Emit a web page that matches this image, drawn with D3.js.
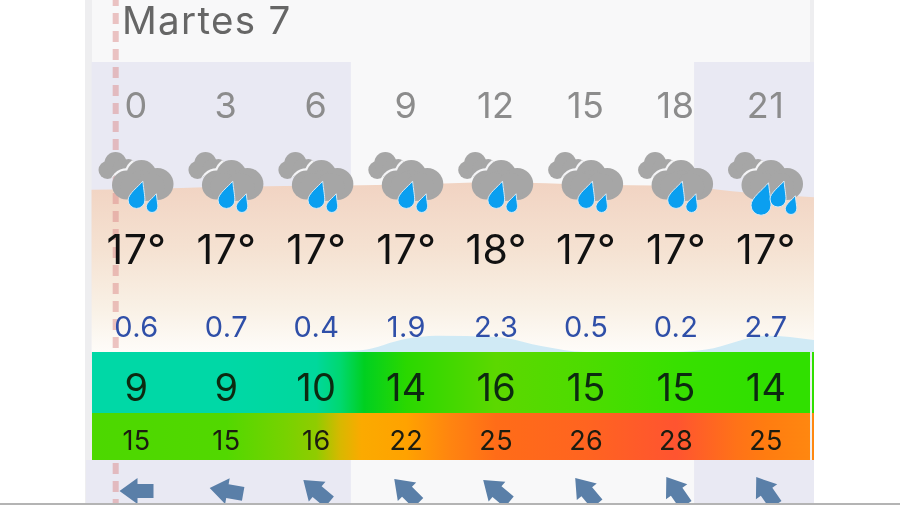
<!DOCTYPE html>
<html>
<head>
<meta charset="utf-8">
<script src="https://cdn.jsdelivr.net/npm/d3@7"></script>
<style>
  html, body { margin: 0; padding: 0; background: #fff; }
  svg { display: block; filter: blur(0.45px); }
  text { font-family: Inter, Roboto, sans-serif; }
</style>
</head>
<body>
<div id="chart"></div>
<script>
var dayLabel = "Martes 7";
var hours = [0, 3, 6, 9, 12, 15, 18, 21];
var tempLabels = [17, 17, 17, 17, 18, 17, 17, 17];
var rainLabels = ["0.6", "0.7", "0.4", "1.9", "2.3", "0.5", "0.2", "2.7"];
var windSpeed = [9, 9, 10, 14, 16, 15, 15, 14];
var windGust = [15, 15, 16, 22, 25, 26, 28, 25];
var windBearing = [270, 280, 310, 315, 310, 320, 325, 325];
var dropCount = [2, 2, 2, 2, 2, 2, 2, 3];

// curves behind the labels
var tempCurveHours = [-1.5, 0, 3, 6, 9, 12, 15, 18, 21, 22.6];
var tempCurve = [16.85, 16.9, 17.1, 17.2, 17.3, 17.5, 17.3, 17.15, 16.45, 16.2];
var rainCurveHours = [6, 7.5, 9, 10, 12, 13.5, 15, 18, 19, 21, 22.6];
var rainCurve = [0, 0.3, 2.2, 2.7, 2.5, 1, 0, 0, 0.4, 2.7, 2];

var sunrise = 7.15, sunset = 18.6;
var width = 900, height = 505;

var x = d3.scaleLinear().domain([0, 21]).range([136.5, 766]);
var yTemp = d3.scaleLinear().domain([17, 18]).range([188, 176.5]);
var yRain = d3.scaleLinear().domain([0, 3]).range([352, 334]);

var svg = d3.select("#chart").append("svg")
  .attr("width", width)
  .attr("height", height);

var defs = svg.append("defs");

function gradient (id, stops, horizontal) {
  var g = defs.append("linearGradient").attr("id", id);
  if (horizontal) {
    g.attr("gradientUnits", "userSpaceOnUse").attr("x1", 92).attr("x2", 814).attr("y1", 0).attr("y2", 0);
  } else {
    g.attr("x1", 0).attr("x2", 0).attr("y1", 0).attr("y2", 1);
  }
  stops.forEach(function (s) {
    g.append("stop").attr("offset", s[0]).attr("stop-color", s[1]);
  });
}

gradient("tempFill", [[0, "#f1d3c2"], [0.4, "#f5e2d2"], [0.75, "#f9f1e6"], [1, "#fefcf9"]]);

function hourStops (list) {
  return list.map(function (s) { return [(x(s[0]) - 92) / (814 - 92), s[1]]; });
}

gradient("windFill", hourStops([
  [-1.5, "#00d8a6"], [3, "#00d8a6"], [6, "#00d89c"], [6.8, "#00d870"], [7.6, "#00d020"],
  [9, "#2ad800"], [12, "#5cd800"], [15, "#4ddc00"], [18, "#38e000"], [21, "#30e000"], [22.6, "#30e000"]
]), true);

gradient("gustFill", hourStops([
  [-1.5, "#4cd800"], [3, "#52d800"], [5, "#78d200"], [6, "#90cc00"], [6.8, "#d8b800"], [7.5, "#fbaa00"],
  [9, "#ffa200"], [10.5, "#ff8410"], [12, "#ff6c18"], [15, "#ff6420"], [18, "#ff5430"], [20, "#ff7218"], [21, "#ff7c10"], [22.6, "#ff8810"]
]), true);

// page frame
svg.append("rect").attr("x", 85).attr("y", 0).attr("width", 729).attr("height", height).attr("fill", "#eeeef0");
svg.append("rect").attr("x", 92).attr("y", 0).attr("width", 718).attr("height", height).attr("fill", "#f8f8f9");

// night shading
var shade = svg.append("g").attr("fill", "#e9e9f3");
shade.append("rect").attr("x", x(-1.5)).attr("y", 62).attr("width", x(sunrise) - x(-1.5)).attr("height", 300);
shade.append("rect").attr("x", x(sunset)).attr("y", 62).attr("width", 814 - x(sunset)).attr("height", 300);
shade.append("rect").attr("x", 86).attr("y", 460).attr("width", x(sunrise) - 86).attr("height", 45);
shade.append("rect").attr("x", x(sunset)).attr("y", 460).attr("width", 814 - x(sunset)).attr("height", 45);

// temperature and rain areas
var tempArea = d3.area()
  .x(function (d, i) { return x(tempCurveHours[i]); })
  .y0(352)
  .y1(function (d) { return yTemp(d); })
  .curve(d3.curveMonotoneX);

svg.append("path").datum(tempCurve)
  .attr("d", tempArea)
  .attr("fill", "url(#tempFill)");

var rainArea = d3.area()
  .x(function (d, i) { return x(rainCurveHours[i]); })
  .y0(352)
  .y1(function (d) { return yRain(d); })
  .curve(d3.curveMonotoneX);

svg.append("path").datum(rainCurve)
  .attr("d", rainArea)
  .attr("fill", "#d0eaf5");

// current time marker
svg.append("line")
  .attr("x1", 115.7).attr("x2", 115.7)
  .attr("y1", 0).attr("y2", height)
  .attr("stroke", "#dc8c8c")
  .attr("stroke-opacity", 0.5)
  .attr("stroke-width", 6)
  .attr("stroke-dasharray", "11,7")
  .attr("stroke-dashoffset", 5);

// wind bands
svg.append("rect").attr("x", 92).attr("y", 352).attr("width", 718).attr("height", 61).attr("fill", "url(#windFill)");
svg.append("rect").attr("x", 92).attr("y", 413).attr("width", 718).attr("height", 47).attr("fill", "url(#gustFill)");
svg.append("rect").attr("x", 812).attr("y", 352).attr("width", 2).attr("height", 61).attr("fill", "#30e000");
svg.append("rect").attr("x", 812).attr("y", 413).attr("width", 2).attr("height", 47).attr("fill", "#ff8810");

// title and hours
svg.append("text")
  .attr("x", 122).attr("y", 34)
  .attr("font-size", 38.5)
  .attr("letter-spacing", 1.3)
  .attr("fill", "#666")
  .text(dayLabel);

var hourAxis = d3.axisTop(x).tickValues(hours).tickSize(0).tickPadding(0);
var axisG = svg.append("g")
  .attr("transform", "translate(-1,118)")
  .call(hourAxis);
axisG.select(".domain").remove();
axisG.selectAll("text")
  .attr("font-family", null)
  .attr("font-size", 36)
  .attr("letter-spacing", 0.5)
  .attr("fill", "#8c8c8c");

// weather icons
var drops = {
  2: [{dx: 0, dy: 0, s: 1.05}, {dx: 15.5, dy: 7, s: 0.72}],
  3: [{dx: -5, dy: 5, s: 1.25}, {dx: 12, dy: -1, s: 1}, {dx: 25, dy: 9, s: 0.72}]
};

function dropPath (s) {
  var r = 8 * s;
  return "M" + (6 * s) + "," + (-17 * s)
    + "C" + (7 * s) + "," + (-8 * s) + " " + r + "," + (-3 * s) + " " + r + "," + (1 * s)
    + "A" + r + "," + r + " 0 1 1 " + (-r) + "," + (1 * s)
    + "C" + (-r) + "," + (-5 * s) + " " + (2 * s) + "," + (-12 * s) + " " + (6 * s) + "," + (-17 * s) + "Z";
}

var backCloud = [[-29, -5, 9], [-21, -12, 11], [-14, -6, 10], [-8, -9, 7]];
var frontCloud = [[-10, 10, 14.5], [5, 0, 15], [21, 9, 16], [5, 11, 15.5], [-2, 12, 14], [14, 12, 14]];

defs.append("clipPath").attr("id", "backCloudClip")
  .selectAll("circle")
  .data(backCloud)
  .join("circle")
  .attr("cx", function (d) { return d[0]; })
  .attr("cy", function (d) { return d[1]; })
  .attr("r", function (d) { return d[2]; });

var icons = svg.append("g").selectAll("g")
  .data(dropCount)
  .join("g")
  .attr("transform", function (d, i) { return "translate(" + x(hours[i]) + ",175)"; });

icons.each(function (count) {
  var icon = d3.select(this);
  backCloud.forEach(function (c) {
    icon.append("circle").attr("cx", c[0]).attr("cy", c[1]).attr("r", c[2]).attr("fill", "#a6a6a6");
  });
  var halo = icon.append("g").attr("clip-path", "url(#backCloudClip)");
  frontCloud.forEach(function (c) {
    halo.append("circle").attr("cx", c[0]).attr("cy", c[1]).attr("r", c[2] + 2.2).attr("fill", "#f4f4f6");
  });
  frontCloud.forEach(function (c) {
    icon.append("circle").attr("cx", c[0]).attr("cy", c[1]).attr("r", c[2]).attr("fill", "#a6a6a6");
  });
  drops[count].forEach(function (d) {
    icon.append("path")
      .attr("transform", "translate(" + d.dx + "," + (d.dy + 24) + ")")
      .attr("d", dropPath(d.s))
      .attr("fill", "#0a9ff0")
      .attr("stroke", "#d8eaf6")
      .attr("stroke-width", 1);
  });
});

// value rows
function row (values, y, size, color, spacing) {
  svg.append("g").selectAll("text")
    .data(values)
    .join("text")
    .attr("x", function (d, i) { return x(hours[i]); })
    .attr("y", y)
    .attr("text-anchor", "middle")
    .attr("font-size", size)
    .attr("letter-spacing", spacing)
    .attr("fill", color)
    .text(function (d) { return d; });
}

row(tempLabels.map(function (d) { return d + "°"; }), 264, 41, "#111", 0.5);
row(rainLabels, 337, 29, "#2f4fa8", 0.4);
row(windSpeed, 401, 38, "#0c2a10", 0.3);
row(windGust, 450, 27, "#1c1c10", 0.4);

// wind arrows
var arrow = d3.line()([[0, -17], [13, 1], [7, 1], [7, 17], [-7, 17], [-7, 1], [-13, 1]]) + "Z";

svg.append("g").selectAll("path")
  .data(windBearing)
  .join("path")
  .attr("d", arrow)
  .attr("fill", "#5a7fa8")
  .attr("transform", function (d, i) { return "translate(" + x(hours[i]) + ",491) rotate(" + d + ")"; });

// bottom edge of the screenshot
svg.append("rect").attr("x", 0).attr("y", 503).attr("width", width).attr("height", 2).attr("fill", "#b4b4b4");
</script>
</body>
</html>
